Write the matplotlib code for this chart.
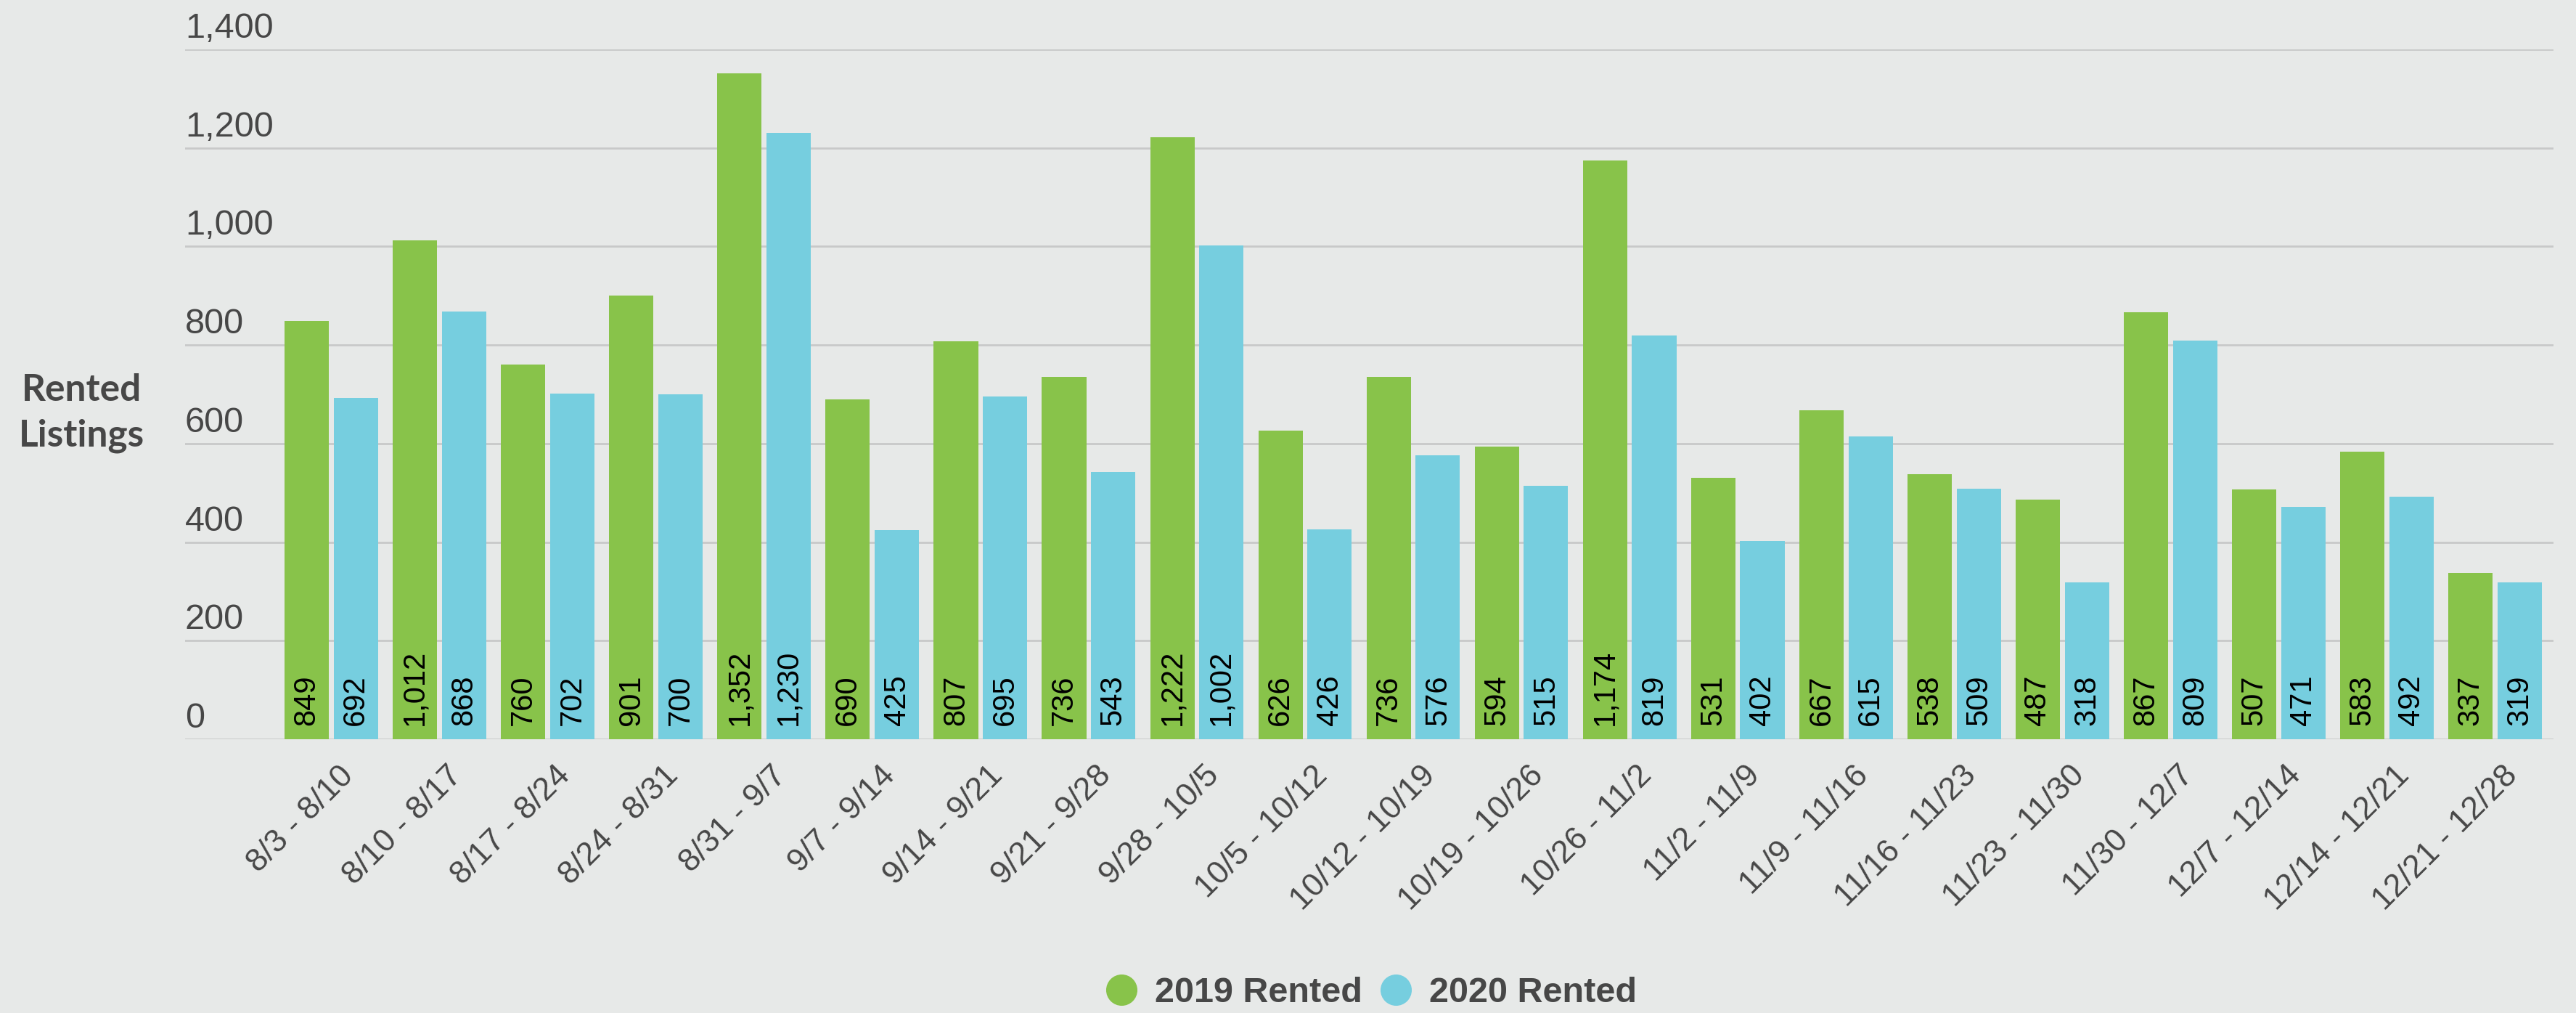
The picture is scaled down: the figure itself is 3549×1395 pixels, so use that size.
import matplotlib.pyplot as plt
import matplotlib.transforms as mtransforms
from matplotlib.lines import Line2D
import numpy as np

# Weekly windows on the x axis
weeks = ['8/3 - 8/10', '8/10 - 8/17', '8/17 - 8/24', '8/24 - 8/31', '8/31 - 9/7',
         '9/7 - 9/14', '9/14 - 9/21', '9/21 - 9/28', '9/28 - 10/5', '10/5 - 10/12',
         '10/12 - 10/19', '10/19 - 10/26', '10/26 - 11/2', '11/2 - 11/9', '11/9 - 11/16',
         '11/16 - 11/23', '11/23 - 11/30', '11/30 - 12/7', '12/7 - 12/14', '12/14 - 12/21',
         '12/21 - 12/28']

rented_2019 = [849, 1012, 760, 901, 1352, 690, 807, 736, 1222, 626, 736,
               594, 1174, 531, 667, 538, 487, 867, 507, 583, 337]
rented_2020 = [692, 868, 702, 700, 1230, 425, 695, 543, 1002, 426, 576,
               515, 819, 402, 615, 509, 318, 809, 471, 492, 319]

y_ticks = [0, 200, 400, 600, 800, 1000, 1200, 1400]
y_tick_labels = ['0', '200', '400', '600', '800', '1,000', '1,200', '1,400']

series_names = ['2019 Rented', '2020 Rented']

BG = '#e7e9e8'
GREEN = '#88c34a'
BLUE = '#76cedf'
GRID = '#c8c9c9'
TEXT = '#474747'
# narrow face if there is one, else Arial-metric Liberation Sans
NARROW = ['Liberation Sans Narrow', 'Liberation Sans', 'DejaVu Sans']


def plot_rented(fig):
    """Grouped bars of rented listings per week."""
    ax = fig.add_axes([0.07185, 0.27025, 0.91942, 0.68100])
    ax.set_facecolor(BG)

    x = np.arange(len(weeks))
    width = 0.41
    offset = 0.227
    bars_19 = ax.bar(x - offset, rented_2019, width, color=GREEN, zorder=2)
    bars_20 = ax.bar(x + offset, rented_2020, width, color=BLUE, zorder=2)

    # value labels written upward from the bottom of each bar
    for bars in (bars_19, bars_20):
        for b in bars:
            ax.annotate(f'{int(b.get_height()):,}',
                        (b.get_x() + b.get_width() / 2, 0),
                        xytext=(0, 14), textcoords='offset points',
                        rotation=90, ha='center', va='bottom',
                        fontsize=30, family=NARROW, color='black', zorder=3)

    ax.set_xlim(-1.352, 20.54)
    ax.set_ylim(0, 1400)

    # y labels sit on top of the grid lines, left aligned
    ax.set_yticks(y_ticks, labels=y_tick_labels)
    ax.tick_params(axis='y', length=0, pad=0)
    up = mtransforms.ScaledTranslation(0, 16 / 100, fig.dpi_scale_trans)
    for lab in ax.get_yticklabels():
        lab.set_horizontalalignment('left')
        lab.set_verticalalignment('baseline')
        lab.set_fontsize(35)
        lab.set_family(NARROW)
        lab.set_color(TEXT)
        lab.set_transform(lab.get_transform() + up)

    ax.set_xticks(x, labels=weeks)
    ax.tick_params(axis='x', length=0, pad=21)
    right = mtransforms.ScaledTranslation(10 / 100, 0, fig.dpi_scale_trans)
    for lab in ax.get_xticklabels():
        lab.set_rotation(45)
        lab.set_horizontalalignment('right')
        lab.set_rotation_mode('anchor')
        lab.set_fontsize(32)
        lab.set_family(NARROW)
        lab.set_color(TEXT)
        lab.set_transform(lab.get_transform() + right)

    ax.yaxis.grid(True, color=GRID, linewidth=2)
    ax.set_axisbelow(True)
    for s in ax.spines.values():
        s.set_visible(False)

    ax.set_ylabel('Rented\nListings', rotation=0, ha='center', va='center',
                  fontsize=37, fontweight='bold', family=['Lato', 'DejaVu Sans'],
                  color=TEXT, linespacing=1.4)
    ax.yaxis.set_label_coords(-0.0438, 0.4726)

    handles = [Line2D([], [], linestyle='none', marker='o', markersize=31,
                      markerfacecolor=c, markeredgewidth=0) for c in (GREEN, BLUE)]
    fig.legend(handles, series_names, loc='center', bbox_to_anchor=(0.5327, 0.0194),
               ncol=2, frameon=False, handlelength=0.8, handletextpad=0.55,
               columnspacing=0.55, borderpad=0,
               prop={'family': NARROW, 'weight': 'bold', 'size': 35},
               labelcolor=TEXT)
    return ax


def main():
    fig = plt.figure(figsize=(35.49, 13.95), dpi=100, facecolor=BG)
    plot_rented(fig)
    fig.savefig('out.png', dpi=100, facecolor=BG)


if __name__ == "__main__":
    main()
